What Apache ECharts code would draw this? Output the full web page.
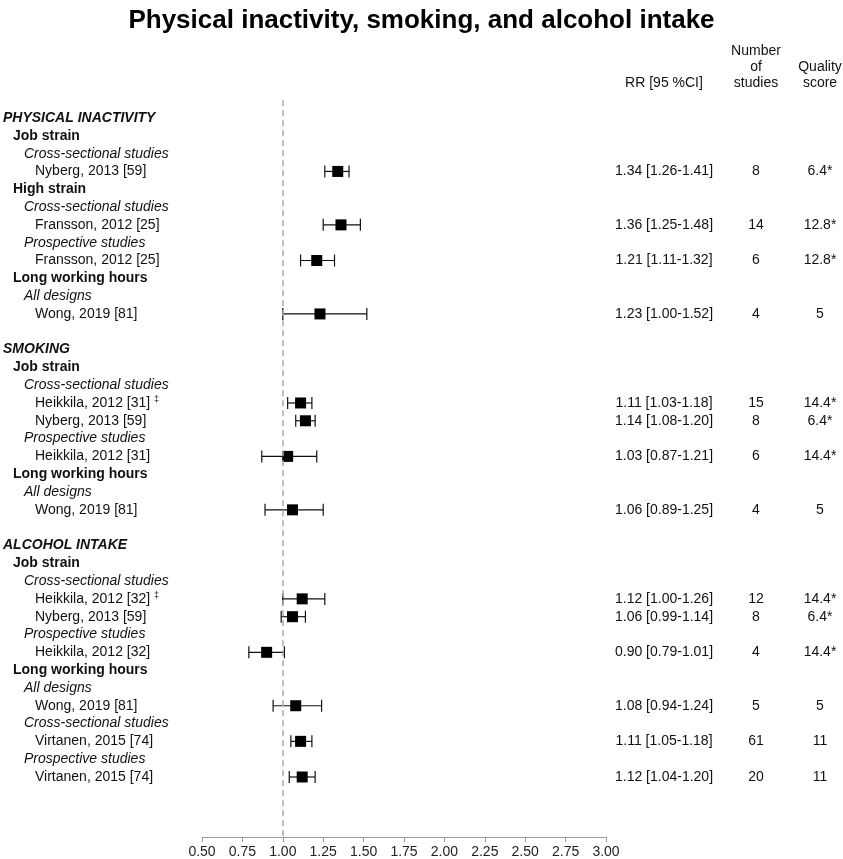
<!DOCTYPE html>
<html><head><meta charset="utf-8">
<script src="https://cdn.jsdelivr.net/npm/echarts@6/dist/echarts.min.js"></script>
<style>html,body{margin:0;padding:0;background:#fff}#c{width:843px;height:859px}</style>
</head><body><div id="c"></div>
<script>
// ---- data ----
const rowLabels = [
  'PHYSICAL INACTIVITY','Job strain','Cross-sectional studies','Nyberg, 2013 [59]',
  'High strain','Cross-sectional studies','Fransson, 2012 [25]','Prospective studies','Fransson, 2012 [25]',
  'Long working hours','All designs','Wong, 2019 [81]',
  '',
  'SMOKING','Job strain','Cross-sectional studies','Heikkila, 2012 [31]‡','Nyberg, 2013 [59]',
  'Prospective studies','Heikkila, 2012 [31]','Long working hours','All designs','Wong, 2019 [81]',
  '',
  'ALCOHOL INTAKE','Job strain','Cross-sectional studies','Heikkila, 2012 [32]‡','Nyberg, 2013 [59]',
  'Prospective studies','Heikkila, 2012 [32]','Long working hours','All designs','Wong, 2019 [81]',
  'Cross-sectional studies','Virtanen, 2015 [74]','Prospective studies','Virtanen, 2015 [74]'
];
const rowLevels = [
  0,1,2,3,
  1,2,3,2,3,
  1,2,3,
  -1,
  0,1,2,3,3,
  2,3,1,2,3,
  -1,
  0,1,2,3,3,
  2,3,1,2,3,
  2,3,2,3
];
const studyRow  = [3,6,8,11,16,17,19,22,27,28,30,33,35,37];
const estimate  = [1.34,1.36,1.21,1.23,1.11,1.14,1.03,1.06,1.12,1.06,0.90,1.08,1.11,1.12];
const lowerCI   = [1.26,1.25,1.11,1.00,1.03,1.08,0.87,0.89,1.00,0.99,0.79,0.94,1.05,1.04];
const upperCI   = [1.41,1.48,1.32,1.52,1.18,1.20,1.21,1.25,1.26,1.14,1.01,1.24,1.18,1.20];
const nStudies  = [8,14,6,4,15,8,6,4,12,8,4,5,61,20];
const quality   = ['6.4*','12.8*','12.8*','5','14.4*','6.4*','14.4*','5','14.4*','6.4*','14.4*','5','11','11'];
const xMin = 0.5, xMax = 3.0, xStep = 0.25;
const refLine = 1.0;

// ---- layout ----
const FONT = 'Liberation Sans, Arial, sans-serif';
const gridLeft = 202, gridRightX = 606;
const levelX = [3, 13, 24, 35];
const levelStyle = [
  {fontWeight:'bold', fontStyle:'italic'},
  {fontWeight:'bold', fontStyle:'normal'},
  {fontWeight:'normal', fontStyle:'italic'},
  {fontWeight:'normal', fontStyle:'normal'}
];
const rowMin = -1, rowMax = 40.37;

const rrText = {}, nText = {}, qText = {};
studyRow.forEach((r, i) => {
  rrText[r] = estimate[i].toFixed(2) + ' [' + lowerCI[i].toFixed(2) + '-' + upperCI[i].toFixed(2) + ']';
  nText[r] = String(nStudies[i]);
  qText[r] = quality[i];
});

function rowAxis(extra) {
  return Object.assign({
    type: 'value', min: rowMin, max: rowMax, interval: 1, inverse: true,
    axisLine: {show: false, onZero: false}, axisTick: {show: false}, splitLine: {show: false}
  }, extra);
}

const yAxes = [];
for (let lvl = 0; lvl < 4; lvl++) {
  yAxes.push(rowAxis({
    position: 'left',
    axisLabel: Object.assign({
      margin: gridLeft - levelX[lvl], align: 'left', fontSize: 14, color: '#111', fontFamily: FONT,
      lineHeight: 16,
      formatter: function (v) {
        const i = Math.round(v);
        if (Math.abs(v - i) > 1e-6 || rowLevels[i] !== lvl) return '';
        const s = rowLabels[i];
        if (s.indexOf('‡') >= 0) return s.replace('‡', '') + ' {sup|‡}';
        return s;
      },
      rich: {sup: {fontSize: 9, lineHeight: 9, verticalAlign: 'top', color: '#111', fontFamily: FONT}}
    }, levelStyle[lvl])
  }));
}
const rightCols = [[664 - gridRightX, rrText], [756 - gridRightX, nText], [820 - gridRightX, qText]];
rightCols.forEach(([m, map]) => {
  yAxes.push(rowAxis({
    position: 'right',
    axisLabel: {
      margin: m, align: 'center', fontSize: 14, color: '#111', fontFamily: FONT,
      formatter: function (v) {
        const i = Math.round(v);
        if (Math.abs(v - i) > 1e-6) return '';
        return map[i] || '';
      }
    }
  }));
});

const whiskerData = studyRow.map((r, i) => [lowerCI[i], upperCI[i], r]);
const pointData = studyRow.map((r, i) => [estimate[i], r]);

const chart = echarts.init(document.getElementById('c'), null, {renderer: 'canvas'});
chart.setOption({
  animation: false,
  backgroundColor: '#fff',
  title: {
    text: 'Physical inactivity, smoking, and alcohol intake',
    left: 'center', top: 3,
    textStyle: {fontSize: 26, fontWeight: 'bold', color: '#000', fontFamily: FONT}
  },
  grid: {left: gridLeft, right: 843 - gridRightX, top: 100.2, bottom: 22, containLabel: false},
  xAxis: {
    type: 'value', min: xMin, max: xMax, interval: xStep,
    axisLine: {show: true, onZero: false, lineStyle: {color: '#999', width: 1}},
    axisTick: {show: true, length: 5, lineStyle: {color: '#999'}},
    splitLine: {show: false},
    axisLabel: {margin: 8, fontSize: 14, color: '#222', fontFamily: FONT,
      formatter: v => v.toFixed(2)}
  },
  yAxis: yAxes,
  graphic: [
    {type: 'text', style: {text: 'RR [95 %CI]', x: 664, y: 83, align: 'center', verticalAlign: 'middle', font: '14px ' + FONT, fill: '#111'}},
    {type: 'text', style: {text: 'Number', x: 756, y: 51, align: 'center', verticalAlign: 'middle', font: '14px ' + FONT, fill: '#111'}},
    {type: 'text', style: {text: 'of', x: 756, y: 67, align: 'center', verticalAlign: 'middle', font: '14px ' + FONT, fill: '#111'}},
    {type: 'text', style: {text: 'studies', x: 756, y: 83, align: 'center', verticalAlign: 'middle', font: '14px ' + FONT, fill: '#111'}},
    {type: 'text', style: {text: 'Quality', x: 820, y: 67, align: 'center', verticalAlign: 'middle', font: '14px ' + FONT, fill: '#111'}},
    {type: 'text', style: {text: 'score', x: 820, y: 83, align: 'center', verticalAlign: 'middle', font: '14px ' + FONT, fill: '#111'}}
  ],
  series: [
    {
      type: 'custom', yAxisIndex: 0, data: whiskerData, encode: {x: [0, 1], y: 2},
      renderItem: function (params, api) {
        const a = api.coord([api.value(0), api.value(2)]);
        const b = api.coord([api.value(1), api.value(2)]);
        const h = 6;
        const st = {stroke: '#111', lineWidth: 1.2};
        return {type: 'group', children: [
          {type: 'line', shape: {x1: a[0], y1: a[1], x2: b[0], y2: b[1]}, style: st},
          {type: 'line', shape: {x1: a[0], y1: a[1] - h, x2: a[0], y2: a[1] + h}, style: st},
          {type: 'line', shape: {x1: b[0], y1: b[1] - h, x2: b[0], y2: b[1] + h}, style: st}
        ]};
      },
      markLine: {
        silent: true, symbol: 'none', label: {show: false},
        lineStyle: {color: '#aaa', type: [6, 4], width: 1.5},
        data: [{xAxis: refLine}]
      },
      z: 2
    },
    {
      type: 'scatter', yAxisIndex: 0, data: pointData, symbol: 'rect', symbolSize: 11,
      itemStyle: {color: '#000', opacity: 1}, z: 3
    }
  ]
});
</script>
</body></html>
